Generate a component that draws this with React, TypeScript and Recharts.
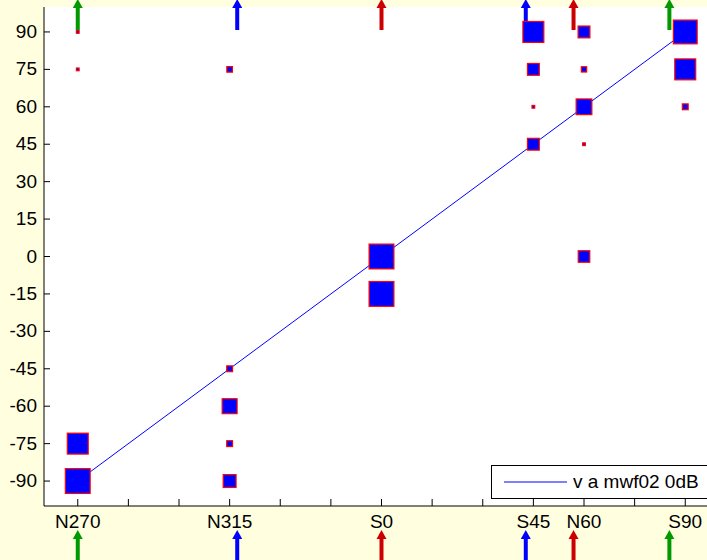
import {
  CartesianGrid,
  ComposedChart,
  Legend,
  ReferenceLine,
  Scatter,
  XAxis,
  YAxis,
  ZAxis,
} from "recharts";

const FONT = "'Liberation Sans', Arial, sans-serif";

// x ticks every 15 deg, only some get a name
const xTicks = [-90, -75, -60, -45, -30, -15, 0, 15, 30, 45, 60, 75, 90];
const namedX = [-90, -45, 0, 45, 60, 90];
const namedLabels = ["N270", "N315", "S0", "S45", "N60", "S90"];
const yTicks = [-90, -75, -60, -45, -30, -15, 0, 15, 30, 45, 60, 75, 90];

// one column of squares per source direction
const columnX = [-90, -45, 0, 45, 60, 90];
const columnY = [
  [90, 75, -75, -90],
  [75, -45, -60, -75, -90],
  [0, -15],
  [90, 75, 60, 45],
  [90, 75, 60, 45, 0],
  [90, 75, 60],
];
const columnMag = [
  [15, 15, 85, 100],
  [26, 27, 62, 27, 54],
  [100, 100],
  [85, 50, 15, 50],
  [50, 25, 65, 15, 49],
  [96, 85, 27],
];

const lineX = [-90, 90];
const lineY = [-90, 90];
const lineName = "v a mwf02 0dB";

const arrowX = [-90, -42.75, 0, 42.75, 56.9, 85.3];
const arrowColors = ["#009900", "#0000ff", "#cc0000", "#0000ff", "#cc0000", "#009900"];

const squares = columnX.flatMap((x, i) =>
  columnY[i].map((y, j) => ({ x, y, m: columnMag[i][j] }))
);
const diagonal = lineX.map((x, i) => ({ x, y: lineY[i] }));

function SquareMarker(props: any) {
  const { cx, cy } = props;
  const s = props.size ?? Math.PI * Math.pow((props.width ?? 0) / 2, 2);
  return (
    <rect
      x={cx - s / 2 + 0.6}
      y={cy - s / 2 + 0.6}
      width={Math.max(s - 1.2, 0.5)}
      height={Math.max(s - 1.2, 0.5)}
      fill="#0000ff"
      stroke="#ff0000"
      strokeWidth={1.2}
    />
  );
}

function BottomTick({ x, y, payload }: any) {
  const idx = namedX.indexOf(payload.value);
  return (
    <g>
      <line x1={x} y1={y} x2={x} y2={y - 7} stroke="#000" />
      {idx >= 0 && (
        <text x={x} y={y + 22} textAnchor="middle" fontSize={19} fontFamily={FONT} fill="#000">
          {namedLabels[idx]}
        </text>
      )}
    </g>
  );
}

function TopTick({ x, y }: any) {
  return <line x1={x} y1={y} x2={x} y2={y + 7} stroke="#000" />;
}

function LeftTick({ x, y, payload }: any) {
  return (
    <g>
      <line x1={x} y1={y} x2={x + 6} y2={y} stroke="#000" />
      <text x={x - 7} y={y + 6} textAnchor="end" fontSize={19} fontFamily={FONT} fill="#000">
        {payload.value}
      </text>
    </g>
  );
}

function makeArrow(color: string, up: boolean) {
  return (p: any) => {
    const x = p.x1;
    const top = Math.min(p.y1, p.y2);
    const bottom = Math.max(p.y1, p.y2);
    const tip = up ? top - 8 : bottom + 24;
    const end = up ? top + 23 : bottom + 56;
    return (
      <g>
        <line x1={x} y1={tip + 8} x2={x} y2={end} stroke={color} strokeWidth={4} />
        <polygon points={`${x - 5},${tip + 9} ${x + 5},${tip + 9} ${x},${tip}`} fill={color} />
      </g>
    );
  };
}

function LegendBox() {
  return (
    <div
      style={{
        width: 240,
        height: 34,
        boxSizing: "border-box",
        border: "1px solid #000",
        background: "#fff",
        display: "flex",
        alignItems: "center",
        fontFamily: FONT,
        fontSize: 19,
        color: "#000",
      }}
    >
      <svg width={63} height={2} style={{ marginLeft: 12 }}>
        <line x1={0} y1={1} x2={63} y2={1} stroke="#0000ff" />
      </svg>
      <span style={{ marginLeft: 6, whiteSpace: "nowrap" }}>{lineName}</span>
    </div>
  );
}

export default function App() {
  return (
    <div
      style={{
        position: "absolute",
        left: 0,
        top: 0,
        width: 707,
        height: 560,
        overflow: "hidden",
        background: "#ffffe0",
      }}
    >
      <ComposedChart width={740} height={560} margin={{ top: 7, right: 21, bottom: 0, left: 0 }}>
        <CartesianGrid horizontal={false} vertical={false} fill="#fff" />
        <XAxis
          type="number"
          dataKey="x"
          domain={[-100, 100]}
          ticks={xTicks}
          interval={0}
          height={54}
          tickSize={0}
          tickMargin={0}
          tickLine={false}
          axisLine={{ stroke: "#000" }}
          tick={<BottomTick />}
        />
        <XAxis
          xAxisId="top"
          orientation="top"
          type="number"
          dataKey="x"
          domain={[-100, 100]}
          ticks={xTicks}
          interval={0}
          height={0}
          tickSize={0}
          tickMargin={0}
          tickLine={false}
          axisLine={{ stroke: "#000" }}
          tick={<TopTick />}
        />
        <YAxis
          type="number"
          dataKey="y"
          domain={[-100, 100]}
          ticks={yTicks}
          interval={0}
          width={44}
          tickSize={0}
          tickMargin={0}
          tickLine={false}
          axisLine={{ stroke: "#000" }}
          tick={<LeftTick />}
        />
        <ZAxis type="number" dataKey="m" domain={[0, 100]} range={[0, 26]} />
        <Scatter
          data={diagonal}
          name={lineName}
          line={{ stroke: "#0000ff", strokeWidth: 1 }}
          shape={() => <g />}
          legendType="line"
          isAnimationActive={false}
        />
        <Scatter
          data={squares}
          name="squares"
          shape={<SquareMarker />}
          legendType="none"
          isAnimationActive={false}
        />
        {arrowX.map((x, i) => (
          <ReferenceLine key={`t${i}`} x={x} shape={makeArrow(arrowColors[i], true)} />
        ))}
        {arrowX.map((x, i) => (
          <ReferenceLine key={`b${i}`} x={x} shape={makeArrow(arrowColors[i], false)} />
        ))}
        <Legend
          layout="horizontal"
          align="center"
          verticalAlign="middle"
          wrapperStyle={{ left: 491, top: 465, width: 240, height: 34 }}
          content={() => <LegendBox />}
        />
      </ComposedChart>
    </div>
  );
}
